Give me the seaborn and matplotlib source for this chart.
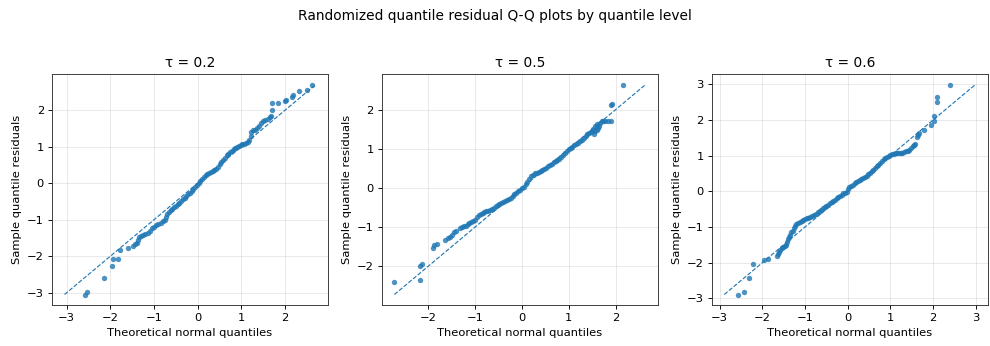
import matplotlib
matplotlib.use("Agg")
import matplotlib.pyplot as plt
import seaborn as sns
import pandas as pd

# (theoretical quantile, sample residual) pairs
tau_02_points = [
    (-2.59, -3.05), (-2.53, -2.99), (-2.14, -2.61), (-1.97, -2.26), (-1.95, -2.09),
    (-1.82, -2.08), (-1.79, -1.82), (-1.60, -1.77), (-1.48, -1.73), (-1.44, -1.67),
    (-1.38, -1.63), (-1.36, -1.55),
    (-1.34, -1.48), (-1.30, -1.44), (-1.25, -1.41), (-1.20, -1.38), (-1.15, -1.36),
    (-1.10, -1.31), (-1.05, -1.24), (-1.00, -1.20), (-0.95, -1.16), (-0.90, -1.12),
    (-0.85, -1.09), (-0.80, -1.05), (-0.76, -1.02), (-0.73, -0.92), (-0.70, -0.84),
    (-0.66, -0.78), (-0.62, -0.74), (-0.58, -0.70), (-0.54, -0.66), (-0.50, -0.62),
    (-0.46, -0.58), (-0.42, -0.54), (-0.38, -0.49), (-0.34, -0.44), (-0.30, -0.40),
    (-0.26, -0.35), (-0.22, -0.30), (-0.18, -0.26), (-0.14, -0.21), (-0.10, -0.16),
    (-0.06, -0.11), (-0.02, -0.05), (0.02, 0.00), (0.06, 0.05), (0.10, 0.10),
    (0.14, 0.16), (0.18, 0.21), (0.22, 0.24), (0.26, 0.27), (0.30, 0.30),
    (0.34, 0.33), (0.38, 0.36), (0.42, 0.40), (0.46, 0.45), (0.50, 0.52),
    (0.54, 0.58), (0.58, 0.64), (0.62, 0.70), (0.66, 0.76), (0.70, 0.81),
    (0.74, 0.85), (0.78, 0.89), (0.82, 0.93), (0.86, 0.96), (0.90, 0.99),
    (0.94, 1.02), (0.98, 1.04), (1.02, 1.06), (1.06, 1.08), (1.10, 1.10),
    (1.14, 1.13), (1.18, 1.18), (1.21, 1.30),
    (1.23, 1.40), (1.26, 1.46), (1.30, 1.46), (1.35, 1.50), (1.40, 1.57),
    (1.45, 1.64), (1.50, 1.70), (1.55, 1.72), (1.60, 1.76), (1.65, 1.81),
    (1.68, 1.85), (1.70, 2.00), (1.71, 2.19), (1.83, 2.19), (2.00, 2.24),
    (2.03, 2.28), (2.16, 2.37), (2.18, 2.40), (2.32, 2.52), (2.49, 2.56),
    (2.61, 2.70),
]

tau_05_points = [
    (-2.72, -2.39), (-2.18, -2.35), (-2.17, -2.00), (-2.13, -1.95), (-1.89, -1.53),
    (-1.87, -1.45), (-1.82, -1.44),
    (-1.63, -1.32), (-1.58, -1.28), (-1.54, -1.25), (-1.49, -1.19), (-1.44, -1.13),
    (-1.40, -1.10), (-1.33, -1.01), (-1.28, -0.99), (-1.24, -0.97), (-1.20, -0.96),
    (-1.16, -0.93), (-1.12, -0.90), (-1.08, -0.87), (-1.04, -0.84), (-1.00, -0.81),
    (-0.96, -0.75), (-0.92, -0.69), (-0.88, -0.67), (-0.84, -0.65), (-0.80, -0.62),
    (-0.76, -0.60), (-0.72, -0.58), (-0.68, -0.56), (-0.64, -0.53), (-0.60, -0.50),
    (-0.56, -0.47), (-0.52, -0.44), (-0.48, -0.41), (-0.44, -0.39), (-0.40, -0.37),
    (-0.36, -0.34), (-0.32, -0.31), (-0.28, -0.29), (-0.24, -0.25), (-0.20, -0.20),
    (-0.16, -0.16), (-0.12, -0.12), (-0.08, -0.08), (-0.04, -0.04), (0.00, -0.01),
    (0.04, 0.03), (0.08, 0.09), (0.12, 0.16), (0.16, 0.22), (0.20, 0.30),
    (0.24, 0.34), (0.28, 0.37), (0.32, 0.39), (0.36, 0.41), (0.40, 0.43),
    (0.44, 0.46), (0.48, 0.49), (0.52, 0.52), (0.56, 0.55), (0.60, 0.59),
    (0.64, 0.62), (0.68, 0.65), (0.72, 0.68), (0.76, 0.71), (0.80, 0.74),
    (0.84, 0.78), (0.88, 0.83), (0.92, 0.89), (0.96, 0.95), (1.00, 1.00),
    (1.04, 1.02), (1.08, 1.05), (1.12, 1.09), (1.16, 1.12), (1.20, 1.15),
    (1.24, 1.19), (1.28, 1.23), (1.32, 1.28), (1.36, 1.32), (1.40, 1.37),
    (1.44, 1.40), (1.48, 1.43),
    (1.50, 1.45), (1.53, 1.39), (1.57, 1.45), (1.60, 1.47), (1.62, 1.54),
    (1.64, 1.58), (1.52, 1.50), (1.56, 1.58), (1.60, 1.62), (1.66, 1.66),
    (1.70, 1.70), (1.74, 1.72), (1.78, 1.71), (1.84, 1.71), (1.90, 1.71),
    (1.90, 2.12), (1.93, 2.14), (2.16, 2.64),
]

tau_06_points = [
    (-2.56, -2.89), (-2.44, -2.81), (-2.31, -2.42), (-2.22, -2.04), (-1.97, -1.92),
    (-1.87, -1.89), (-1.65, -1.82), (-1.63, -1.75),
    (-1.61, -1.69), (-1.58, -1.64), (-1.55, -1.60), (-1.51, -1.56), (-1.48, -1.53),
    (-1.45, -1.50), (-1.43, -1.42), (-1.41, -1.34), (-1.38, -1.27), (-1.35, -1.21),
    (-1.32, -1.15), (-1.29, -1.10), (-1.26, -1.03), (-1.23, -0.97), (-1.20, -0.92),
    (-1.16, -0.88), (-1.12, -0.85), (-1.08, -0.83), (-1.04, -0.80), (-1.00, -0.78),
    (-0.96, -0.76), (-0.92, -0.74), (-0.88, -0.72), (-0.84, -0.68), (-0.80, -0.66),
    (-0.74, -0.63), (-0.70, -0.59), (-0.66, -0.55), (-0.62, -0.51), (-0.58, -0.47),
    (-0.54, -0.44), (-0.50, -0.41), (-0.46, -0.38), (-0.42, -0.34), (-0.38, -0.31),
    (-0.34, -0.27), (-0.30, -0.23), (-0.26, -0.20), (-0.22, -0.17), (-0.18, -0.13),
    (-0.14, -0.09), (-0.10, -0.06), (-0.06, -0.04), (-0.02, -0.02), (0.01, 0.06),
    (0.04, 0.12), (0.08, 0.16), (0.12, 0.19), (0.16, 0.23), (0.20, 0.27),
    (0.24, 0.30), (0.28, 0.33), (0.32, 0.35), (0.36, 0.38), (0.40, 0.41),
    (0.44, 0.44), (0.48, 0.48), (0.52, 0.52), (0.56, 0.56), (0.60, 0.60),
    (0.64, 0.65), (0.68, 0.70), (0.72, 0.75), (0.76, 0.80), (0.80, 0.85),
    (0.84, 0.90), (0.88, 0.94), (0.92, 0.97), (0.96, 1.00), (1.00, 1.02),
    (1.04, 1.04), (1.08, 1.05), (1.12, 1.06), (1.16, 1.06), (1.20, 1.06),
    (1.24, 1.07), (1.28, 1.08), (1.32, 1.10), (1.36, 1.12), (1.40, 1.14),
    (1.44, 1.17), (1.48, 1.21), (1.52, 1.26), (1.55, 1.30), (1.58, 1.33),
    (1.62, 1.52), (1.64, 1.58), (1.66, 1.63), (1.79, 1.71), (1.95, 1.85),
    (2.01, 1.97), (2.03, 2.12), (2.09, 2.51), (2.10, 2.63), (2.40, 2.99),
]

tau_labels = ["τ = 0.2", "τ = 0.5", "τ = 0.6"]
panels = [tau_02_points, tau_05_points, tau_06_points]

suptitle = "Randomized quantile residual Q-Q plots by quantile level"
xlabel = "Theoretical normal quantiles"
ylabel = "Sample quantile residuals"

plt.rcParams["font.family"] = ["DejaVu Sans"]
DPI = 82.5
fig, axes = plt.subplots(1, 3, figsize=(990 / DPI, 346 / DPI), dpi=DPI)
fig.subplots_adjust(left=0.0525, right=0.998, bottom=0.1185, top=0.786, wspace=0.194)

blue = "#1f77b4"
for ax, label, pts in zip(axes, tau_labels, panels):
    df = pd.DataFrame(pts, columns=["theoretical", "sample"])
    lo = min(df["theoretical"].min(), df["sample"].min())
    hi = max(df["theoretical"].max(), df["sample"].max())
    ref = pd.DataFrame({"x": [lo, hi], "y": [lo, hi]})
    ax.grid(True, color="#b0b0b0", alpha=0.3, linewidth=0.8)
    ax.set_axisbelow(True)
    sns.scatterplot(data=df, x="theoretical", y="sample", ax=ax, s=22,
                    color=blue, alpha=0.8, linewidth=0, zorder=3)
    sns.lineplot(data=ref, x="x", y="y", ax=ax, color=blue, linestyle="--",
                 linewidth=1.0, zorder=2)
    ax.set_title(label, fontsize=12)
    ax.set_xlabel(xlabel, fontsize=10)
    ax.set_ylabel(ylabel, fontsize=10)
    for sp in ax.spines.values():
        sp.set_color("#333333")

fig.suptitle(suptitle, fontsize=12, y=0.975)
fig.savefig("out.png", dpi=DPI)
